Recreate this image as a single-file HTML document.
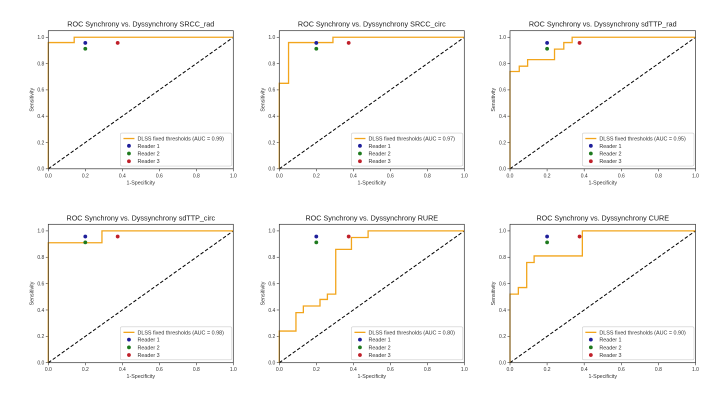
<!DOCTYPE html>
<html><head><meta charset="utf-8"><style>
body{margin:0;background:#fff;}
svg{display:block;font-family:"Liberation Sans","DejaVu Sans",sans-serif;}
</style></head><body>
<svg id="c" width="720" height="405" viewBox="0 0 720 405"></svg>
<script>
const titles = ["SRCC_rad","SRCC_circ","sdTTP_rad","sdTTP_circ","RURE","CURE"];
const aucs = ["0.99","0.97","0.95","0.98","0.80","0.90"];
const fprs = [
 [0,0,0.14,0.14,1],
 [0,0,0.05,0.05,0.29,0.29,1],
 [0,0,0.05,0.05,0.095,0.095,0.24,0.24,0.29,0.29,0.335,0.335,1],
 [0,0,0.29,0.29,1],
 [0,0,0.09,0.09,0.13,0.13,0.22,0.22,0.26,0.26,0.305,0.305,0.39,0.39,0.48,0.48,1],
 [0,0,0.045,0.045,0.09,0.09,0.13,0.13,0.39,0.39,1]
];
const tprs = [
 [0,0.96,0.96,1,1],
 [0,0.65,0.65,0.96,0.96,1,1],
 [0,0.74,0.74,0.78,0.78,0.83,0.83,0.91,0.91,0.96,0.96,1,1],
 [0,0.91,0.91,1,1],
 [0,0.24,0.24,0.38,0.38,0.43,0.43,0.48,0.48,0.52,0.52,0.86,0.86,0.95,0.95,1,1],
 [0,0.52,0.52,0.57,0.57,0.76,0.76,0.81,0.81,1,1]
];
const readerNames = ["Reader 1","Reader 2","Reader 3"];
const readerX = [0.2,0.2,0.375];
const readerY = [0.957,0.913,0.957];
const readerColors = ["#1f1f9a","#1e7a1e","#c0202a"];
const ticks = [0,0.2,0.4,0.6,0.8,1.0];

const NS="http://www.w3.org/2000/svg";
const svg=document.getElementById('c');
function mk(tag,attrs,parent,text){const e=document.createElementNS(NS,tag);for(const k in attrs)e.setAttribute(k,attrs[k]);if(text!==undefined)e.textContent=text;(parent||svg).appendChild(e);return e;}
const colsX=[[48.3,233.3],[279.3,464.3],[510,695.5]];
const rowsY=[[168.8,30.7],[362.7,224.3]];
for(let i=0;i<6;i++){
 const col=i%3,row=Math.floor(i/3);
 const x0=colsX[col][0],x1=colsX[col][1],yb=rowsY[row][0],yt=rowsY[row][1];
 const sx=v=>x0+v*(x1-x0);
 const sy=v=>yb-v*(yb-yt)/1.05;
 const g=mk('g',{},svg);
 
 
 const t=mk('text',{x:(x0+x1)/2,y:yt-4,'font-size':7.2,'text-anchor':'middle',fill:'#222'},g,'ROC Synchrony vs. Dyssynchrony '+titles[i]);
 
 
 ticks.forEach(v=>{
  mk('line',{x1:sx(v),x2:sx(v),y1:yb,y2:yb+2.5,stroke:'#333','stroke-width':0.6},g);
  const tx=mk('text',{x:sx(v),y:yb+8.5,'font-size':5,'text-anchor':'middle',fill:'#333'},g,v.toFixed(1));
  
  
  mk('line',{x1:x0-2.5,x2:x0,y1:sy(v),y2:sy(v),stroke:'#333','stroke-width':0.6},g);
  const ty=mk('text',{x:x0-4,y:sy(v)+1.8,'font-size':5,'text-anchor':'end',fill:'#333'},g,v.toFixed(1));
  
  
 });
 const xl=mk('text',{x:(x0+x1)/2,y:yb+15.5,'font-size':5.3,'text-anchor':'middle',fill:'#333'},g,'1-Specificity');
 
 
 const yc=(yb+yt)/2;
 const yl=mk('text',{x:x0-15,y:yc,'font-size':5.3,'text-anchor':'middle',fill:'#333',transform:`rotate(-90 ${x0-15} ${yc})`},g,'Sensitivity');
 
 
 const d=mk('line',{x1:sx(0),y1:sy(0),x2:sx(1),y2:sy(1),stroke:'#000','stroke-width':1,'stroke-dasharray':'3.5,2'},g);
 
 
 const pts=fprs[i].map((f,k)=>sx(f).toFixed(2)+','+sy(tprs[i][k]).toFixed(2)).join(' ');
 const pl=mk('polyline',{points:pts,fill:'none',stroke:'#f2a51c','stroke-width':1.3},g);
 
 
 for(let r=0;r<3;r++){
  const c=mk('circle',{cx:sx(readerX[r]),cy:sy(readerY[r]),r:1.9,fill:readerColors[r]},g);
  
  
 }
 mk('rect',{x:x0,y:yt,width:x1-x0,height:yb-yt,fill:'none',stroke:'#333','stroke-width':0.7},g);
 const lx=sx(0.39),ly=sy(0.272);
 const lg=mk('g',{},g);
 
 
 mk('rect',{x:lx,y:ly,width:x1-1.5-lx,height:33,fill:'#fff',stroke:'#ccc','stroke-width':0.6,rx:1.5},lg);
 mk('line',{x1:lx+3,x2:lx+14,y1:ly+5.5,y2:ly+5.5,stroke:'#f2a51c','stroke-width':1.3},lg);
 const le=mk('text',{x:lx+17,y:ly+7.5,'font-size':5.4,fill:'#333'},lg,'DLSS fixed thresholds (AUC = '+aucs[i]+')');
 
 
 for(let r=0;r<3;r++){
  const lc=mk('circle',{cx:lx+8.5,cy:ly+12.8+r*7.7,r:1.9,fill:readerColors[r]},lg);
  const lt=mk('text',{x:lx+17,y:ly+14.8+r*7.7,'font-size':5.4,fill:'#333'},lg,readerNames[r]);
  
  
 }
}
</script>
</body></html>
